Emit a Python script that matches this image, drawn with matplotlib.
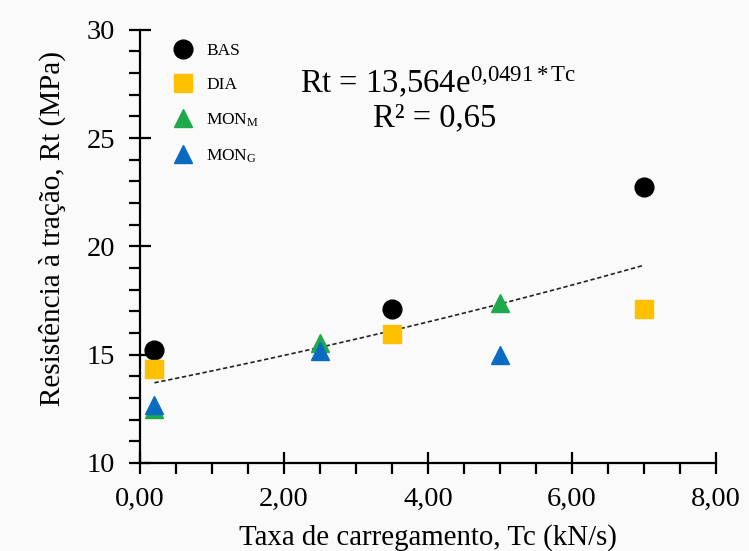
import numpy as np
import matplotlib
matplotlib.use("Agg")
import matplotlib.pyplot as plt
from matplotlib.ticker import MultipleLocator, FuncFormatter

plt.rcParams['font.family'] = ['Liberation Serif', 'DejaVu Serif']
plt.rcParams['mathtext.fontset'] = 'custom'
plt.rcParams['mathtext.rm'] = 'Liberation Serif'
plt.rcParams['mathtext.it'] = 'Liberation Serif:italic'
plt.rcParams['mathtext.sf'] = 'Liberation Sans'

# Data
bas_x = [0.2, 3.5, 7.0]
bas_y = [15.22, 17.12, 22.72]
dia_x = [0.2, 3.5, 7.0]
dia_y = [14.32, 15.96, 17.12]
monm_x = [0.2, 2.5, 5.0]
monm_y = [12.5, 15.55, 17.4]
mong_x = [0.2, 2.5, 5.0]
mong_y = [12.68, 15.18, 15.0]
fit_a = 13.564
fit_b = 0.0491
fit_range = [0.2, 7.0]

fig = plt.figure(figsize=(7.49, 5.51), dpi=100, facecolor='#fafafa')
ax = fig.add_axes([0.187, 0.160, 0.769, 0.786])
ax.set_facecolor('#fafafa')

ms = 13.5
ax.plot(bas_x, bas_y, 'o', color='black', ms=ms, label='BAS', zorder=3)
ax.plot(dia_x, dia_y, 's', color='#FFC000', ms=ms - 0.5, label='DIA', zorder=3)
ax.plot(monm_x, monm_y, '^', color='#1EAA4B', ms=ms, label=r'MON$_{\mathrm{M}}$', zorder=3)
ax.plot(mong_x, mong_y, '^', color='#0A6BC2', ms=ms, label=r'MON$_{\mathrm{G}}$', zorder=4)

xf = np.linspace(fit_range[0], fit_range[1], 100)
ax.plot(xf, fit_a * np.exp(fit_b * xf), linestyle=(0, (2.6, 1.6)), color='#222222', lw=1.2, zorder=2)

ax.set_xlim(0, 8)
ax.set_ylim(10, 30)
for s in ['top', 'right']:
    ax.spines[s].set_visible(False)
for s in ['left', 'bottom']:
    ax.spines[s].set_linewidth(1.6)

ax.xaxis.set_major_locator(MultipleLocator(2))
ax.xaxis.set_minor_locator(MultipleLocator(0.5))
ax.yaxis.set_major_locator(MultipleLocator(5))
ax.yaxis.set_minor_locator(MultipleLocator(1))
ax.xaxis.set_major_formatter(FuncFormatter(lambda v, p: f"{v:.2f}".replace('.', ',')))
ax.tick_params(which='major', direction='inout', length=16, width=1.6, labelsize=20.5)
ax.tick_params(axis='x', which='major', pad=9)
ax.tick_params(axis='y', which='major', pad=10)
ax.tick_params(which='minor', direction='out', length=8, width=1.6)

ax.set_xlabel('Taxa de carregamento, Tc (kN/s)', fontsize=20.8, labelpad=9)
ax.set_ylabel('Resistência à tração, Rt (MPa)', fontsize=21, labelpad=15)
ax.yaxis.label.set_y(0.54)

ax.legend(loc='upper left', bbox_to_anchor=(0.035, 0.998), frameon=False, fontsize=12.5,
          labelspacing=1.05, handletextpad=0.75, handlelength=1.2, borderaxespad=0.3)

ax.text(0.277, 0.878, r'Rt = 13,564e$^{0{,}0491*\mathrm{Tc}}$', transform=ax.transAxes,
        fontsize=23.5, ha='left', va='center')
ax.text(0.512, 0.797, 'R² = 0,65', transform=ax.transAxes, fontsize=23.5, ha='center', va='center')

fig.savefig('out.png', dpi=100, facecolor=fig.get_facecolor())
